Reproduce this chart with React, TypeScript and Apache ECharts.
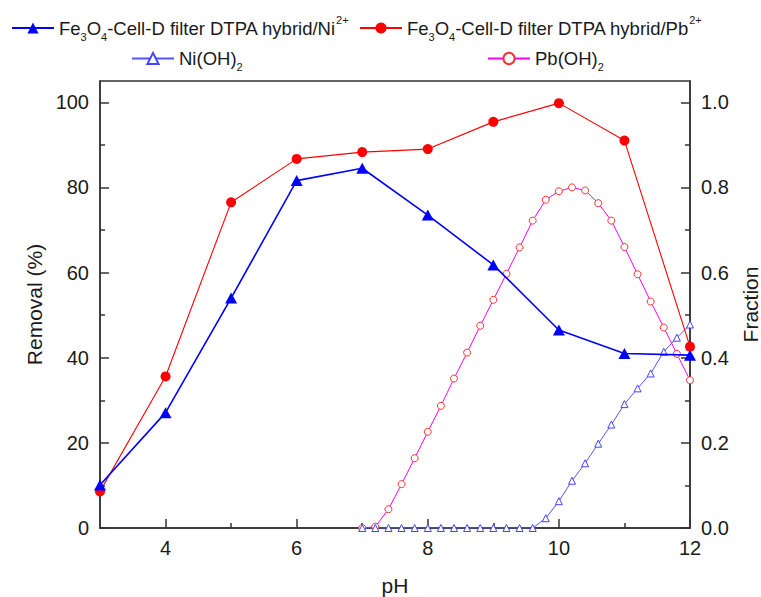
import React, { useEffect, useRef } from "react";
import * as echarts from "echarts";

// ---- data ----
const pH = [3, 4, 5, 6, 7, 8, 9, 10, 11, 12];
const niRemoval = [10.1, 27.1, 54.0, 81.6, 84.5, 73.5, 61.8, 46.5, 41.0, 40.6];
const pbRemoval = [8.6, 35.6, 76.5, 86.7, 88.3, 89.0, 95.4, 99.8, 91.0, 42.6];

const specPH = [
  7.0, 7.2, 7.4, 7.6, 7.8, 8.0, 8.2, 8.4, 8.6, 8.8, 9.0, 9.2, 9.4, 9.6, 9.8,
  10.0, 10.2, 10.4, 10.6, 10.8, 11.0, 11.2, 11.4, 11.6, 11.8, 12.0,
];
const niOH2 = [
  0, 0, 0, 0, 0, 0, 0, 0, 0, 0, 0, 0, 0, 0, 0.023,
  0.063, 0.111, 0.152, 0.198, 0.243, 0.291, 0.328, 0.363, 0.414, 0.447, 0.478,
];
const pbOH2 = [
  0, 0.003, 0.044, 0.103, 0.164, 0.226, 0.287, 0.351, 0.412, 0.475, 0.536,
  0.597, 0.659, 0.722, 0.771, 0.791, 0.8, 0.793, 0.763, 0.722, 0.66, 0.596,
  0.532, 0.471, 0.409, 0.347,
];

const xMajor = [4, 6, 8, 10, 12];
const xMinor = [5, 7, 9, 11];
const yMajor = [0, 20, 40, 60, 80, 100];
const yMinor = [10, 30, 50, 70, 90];
const fMajor = [0, 0.2, 0.4, 0.6, 0.8, 1.0];
const fMinor = [0.1, 0.3, 0.5, 0.7, 0.9];

const NAME_NI = "Fe3O4-Cell-D filter DTPA hybrid/Ni2+";
const NAME_PB = "Fe3O4-Cell-D filter DTPA hybrid/Pb2+";
const NAME_NIOH = "Ni(OH)2";
const NAME_PBOH = "Pb(OH)2";

const FONT = "'Liberation Sans', Arial, sans-serif";
const AXIS_COLOR = "#333";
const TEXT_COLOR = "#1a1a1a";

const richStyles = {
  m: { fontSize: 18.5, lineHeight: 28, fontFamily: FONT, color: TEXT_COLOR },
  sub: { fontSize: 11, lineHeight: 11, verticalAlign: "bottom", fontFamily: FONT, color: TEXT_COLOR },
  sup: { fontSize: 11, lineHeight: 11, verticalAlign: "top", fontFamily: FONT, color: TEXT_COLOR },
};

const legendLabels: Record<string, string> = {
  [NAME_NI]: "{m|Fe}{sub|3}{m|O}{sub|4}{m|-Cell-D filter DTPA hybrid/Ni}{sup|2+}",
  [NAME_PB]: "{m|Fe}{sub|3}{m|O}{sub|4}{m|-Cell-D filter DTPA hybrid/Pb}{sup|2+}",
  [NAME_NIOH]: "{m|Ni(OH)}{sub|2}",
  [NAME_PBOH]: "{m|Pb(OH)}{sub|2}",
};

function makeLegend(name: string, left: number, top: number) {
  return {
    data: [name],
    left,
    top,
    padding: 0,
    itemWidth: 42,
    itemHeight: 14,
    selectedMode: false,
    formatter: (n: string) => legendLabels[n],
    textStyle: { rich: richStyles, fontFamily: FONT, fontSize: 18.5, color: TEXT_COLOR },
  };
}

export default function App() {
  const ref = useRef<HTMLDivElement>(null);
  useEffect(() => {
    if (!ref.current) return;
    const chart = echarts.init(ref.current, null, { renderer: "svg" });
    const grid = {
      left: 100, right: 71, top: 81, bottom: 69,
      show: true, borderColor: AXIS_COLOR, borderWidth: 1.5, backgroundColor: "transparent",
      containLabel: false, outerBoundsMode: "none",
    };
    const baseAxisLine = { show: true, lineStyle: { color: AXIS_COLOR, width: 1.5 } };
    const labelStyle = { fontSize: 20, fontFamily: FONT, color: TEXT_COLOR };
    const nameStyle = { fontSize: 21, fontFamily: FONT, color: TEXT_COLOR };

    chart.setOption({
      animation: false,
      backgroundColor: "#fff",
      grid,
      legend: [
        makeLegend(NAME_NI, 11, 14),
        makeLegend(NAME_PB, 359, 14),
        makeLegend(NAME_NIOH, 131, 49),
        makeLegend(NAME_PBOH, 487, 49),
      ],
      xAxis: [
        {
          type: "value",
          min: 3,
          max: 12,
          position: "bottom",
          axisLine: baseAxisLine,
          axisTick: { show: true, inside: true, length: 9, customValues: xMajor, lineStyle: { color: AXIS_COLOR, width: 1.5 } },
          axisLabel: { customValues: xMajor, margin: 10, ...labelStyle },
          splitLine: { show: false },
          name: "pH",
          nameLocation: "middle",
          nameGap: 47,
          nameTextStyle: nameStyle,
        },
        {
          type: "value",
          min: 3,
          max: 12,
          position: "bottom",
          axisLine: { show: false },
          axisTick: { show: true, inside: true, length: 5, customValues: xMinor, lineStyle: { color: AXIS_COLOR, width: 1.5 } },
          axisLabel: { show: false },
          splitLine: { show: false },
        },
      ],
      yAxis: [
        {
          type: "value",
          min: 0,
          max: 105,
          position: "left",
          axisLine: baseAxisLine,
          axisTick: { show: true, inside: true, length: 9, customValues: yMajor, lineStyle: { color: AXIS_COLOR, width: 1.5 } },
          axisLabel: { customValues: yMajor, margin: 11, ...labelStyle },
          splitLine: { show: false },
          name: "Removal (%)",
          nameLocation: "middle",
          nameGap: 53,
          nameTextStyle: nameStyle,
        },
        {
          type: "value",
          min: 0,
          max: 1.05,
          position: "right",
          axisLine: baseAxisLine,
          axisTick: { show: true, inside: true, length: 9, customValues: fMajor, lineStyle: { color: AXIS_COLOR, width: 1.5 } },
          axisLabel: { customValues: fMajor, margin: 11, formatter: (v: number) => v.toFixed(1), ...labelStyle },
          splitLine: { show: false },
          name: "Fraction",
          nameLocation: "middle",
          nameGap: 47,
          nameTextStyle: nameStyle,
        },
        {
          type: "value",
          min: 0,
          max: 105,
          position: "left",
          axisLine: { show: false },
          axisTick: { show: true, inside: true, length: 5, customValues: yMinor, lineStyle: { color: AXIS_COLOR, width: 1.5 } },
          axisLabel: { show: false },
          splitLine: { show: false },
        },
        {
          type: "value",
          min: 0,
          max: 1.05,
          position: "right",
          axisLine: { show: false },
          axisTick: { show: true, inside: true, length: 5, customValues: fMinor, lineStyle: { color: AXIS_COLOR, width: 1.5 } },
          axisLabel: { show: false },
          splitLine: { show: false },
        },
      ],
      series: [
        {
          name: NAME_PBOH,
          type: "line",
          xAxisIndex: 0,
          yAxisIndex: 1,
          data: specPH.map((x, i) => [x, pbOH2[i]]),
          symbol: "circle",
          symbolSize: 7,
          color: "#ff00ff",
          lineStyle: { color: "#ff00ff", width: 1 },
          itemStyle: { color: "#fff", borderColor: "#ff3030", borderWidth: 1 },
          z: 2,
        },
        {
          name: NAME_NIOH,
          type: "line",
          xAxisIndex: 0,
          yAxisIndex: 1,
          data: specPH.map((x, i) => [x, niOH2[i]]),
          symbol: "triangle",
          symbolSize: 7,
          color: "#5555ff",
          lineStyle: { color: "#5555ff", width: 1 },
          itemStyle: { color: "#fff", borderColor: "#4444ff", borderWidth: 1 },
          z: 2,
        },
        {
          name: NAME_PB,
          type: "line",
          xAxisIndex: 0,
          yAxisIndex: 0,
          data: pH.map((x, i) => [x, pbRemoval[i]]),
          symbol: "circle",
          symbolSize: 10,
          color: "#ff0000",
          lineStyle: { color: "#ff0000", width: 1.1 },
          itemStyle: { color: "#ff0000" },
          z: 3,
        },
        {
          name: NAME_NI,
          type: "line",
          xAxisIndex: 0,
          yAxisIndex: 0,
          data: pH.map((x, i) => [x, niRemoval[i]]),
          symbol: "triangle",
          symbolSize: [12, 11],
          color: "#0000ff",
          lineStyle: { color: "#0000ff", width: 1.6 },
          itemStyle: { color: "#0000ff" },
          z: 4,
        },
      ],
    });
    return () => chart.dispose();
  }, []);
  return (
    <div
      ref={ref}
      style={{ position: "fixed", left: 0, top: 0, width: 761, height: 597, background: "#fff" }}
    />
  );
}
